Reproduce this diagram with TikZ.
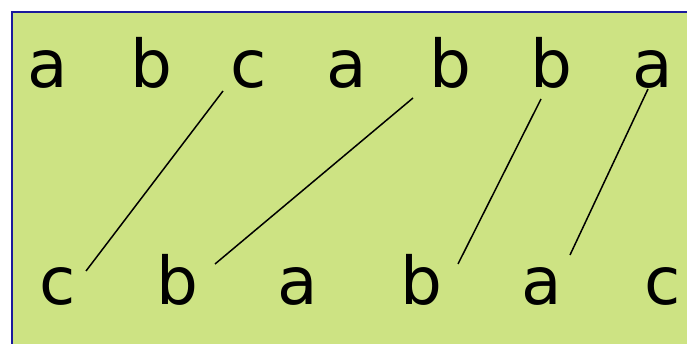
\documentclass[tikz,border=0pt]{standalone}
\usepackage{fontspec}
\setmainfont{DejaVu Sans}
\definecolor{bgfill}{HTML}{CDE383}
\definecolor{bordercol}{HTML}{1A1A9C}
\begin{document}
\begin{tikzpicture}[x=1pt,y=-1pt,
  letter/.style={anchor=base,inner sep=0pt,font=\fontsize{66}{66}\selectfont},
  link/.style={line width=1.5pt,black}]
\useasboundingbox (0,0) rectangle (687,344);
\begin{scope}
\clip (0,0) rectangle (687,344);
\draw[bordercol,fill=bgfill,line width=2pt] (12,12) rectangle (720,380);
\end{scope}
\node[letter] (t1) at (48,88) {a};
\node[letter] (t2) at (151,88) {b};
\node[letter] (t3) at (249,88) {c};
\node[letter] (t4) at (347,88) {a};
\node[letter] (t5) at (450,88) {b};
\node[letter] (t6) at (551,88) {b};
\node[letter] (t7) at (653,88) {a};
\node[letter] (b1) at (58,305) {c};
\node[letter] (b2) at (177,305) {b};
\node[letter] (b3) at (298,305) {a};
\node[letter] (b4) at (421,305) {b};
\node[letter] (b5) at (542,305) {a};
\node[letter] (b6) at (663,305) {c};
\draw[link] ([shift={(-26,3)}]t3.base) -- ([shift={(28,-34)}]b1.base);
\draw[link] ([shift={(-37,10)}]t5.base) -- ([shift={(38,-41)}]b2.base);
\draw[link] ([shift={(-10,11)}]t6.base) -- ([shift={(37,-41)}]b4.base);
\draw[link] ([shift={(-5,1)}]t7.base) -- ([shift={(28,-50)}]b5.base);
\end{tikzpicture}
\end{document}
